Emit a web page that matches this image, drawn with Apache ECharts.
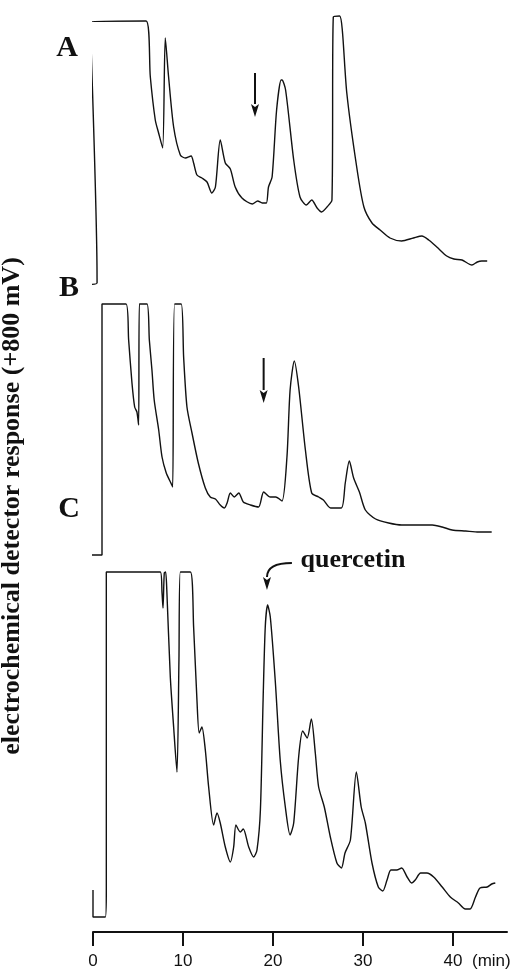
<!DOCTYPE html>
<html>
<head>
<meta charset="utf-8">
<script src="https://cdn.jsdelivr.net/npm/echarts@6/dist/echarts.min.js"></script>
<style>
  html, body { margin: 0; padding: 0; background: #fff; }
  #chart { width: 518px; height: 970px; }
</style>
</head>
<body>
<div id="chart"></div>
<script>
// retention time (min) / detector response
var traceA = [
    [-0.85, 5], [0.45, 7], [0.45, 12], [-0.3, 268], [5.9, 269], [6.37, 213], [6.92, 170],
    [7.29, 157], [7.74, 142], [8.03, 252], [8.4, 213], [8.96, 163], [9.7, 135], [10.26, 132],
    [10.9, 134], [11.18, 127], [11.55, 115], [12.1, 112], [12.67, 108], [13.2, 97], [13.6, 103],
    [14.14, 150], [14.7, 127], [15.26, 121], [15.8, 103], [16.55, 92], [17.7, 86], [18.3, 89],
    [18.8, 87], [19.26, 87], [19.5, 103], [19.9, 113], [20.4, 180], [20.9, 210], [21.0, 210],
    [21.4, 200], [22.3, 130], [23.0, 93], [23.7, 85], [24.3, 90], [24.9, 82], [25.4, 78],
    [26.0, 83], [26.55, 90], [26.7, 273], [27.4, 274], [27.7, 260], [28.2, 197], [29.3, 123],
    [30.1, 83], [31.0, 67], [31.9, 60], [33.0, 52], [34.3, 49], [35.6, 52], [36.55, 54],
    [37.3, 50], [38.2, 43], [39.3, 34], [40.1, 31], [41.0, 30], [42.1, 25], [42.7, 28],
    [43.2, 29], [43.8, 29]
];
var traceB = [
    [-0.6, 12], [-0.6, 5], [1.0, 5], [1.0, 256], [3.67, 256], [3.96, 220], [4.33, 177],
    [4.63, 153], [4.88, 148], [5.07, 135], [5.15, 256], [6.0, 256], [6.26, 220], [6.55, 190],
    [6.8, 160], [7.3, 130], [7.67, 103], [8.14, 87], [8.6, 78], [8.85, 73], [9.07, 256],
    [9.8, 256], [10.07, 203], [10.44, 153], [11.0, 127], [11.7, 97], [12.48, 72], [13.03, 63],
    [13.6, 61], [14.14, 55], [14.6, 52], [14.9, 57], [15.26, 67], [15.7, 63], [16.2, 67],
    [16.7, 58], [17.5, 55], [18.4, 53], [18.96, 68], [19.7, 63], [20.3, 63], [21.0, 59],
    [21.55, 103], [21.9, 170], [22.37, 199], [22.85, 173], [23.6, 110], [24.3, 67], [25.07, 63],
    [25.6, 60], [26.4, 52], [27.6, 52], [28.03, 77], [28.48, 99], [28.96, 82], [29.6, 68],
    [30.26, 50], [31.4, 41], [32.85, 37], [34.3, 35], [36.2, 35], [37.7, 35], [38.8, 33],
    [39.9, 30], [41.4, 29], [42.85, 28], [44.3, 28]
];
var traceC = [
    [0, 42], [0, 15], [1.37, 15], [1.48, 42], [1.48, 360], [7.48, 360], [7.67, 339], [7.78, 324],
    [7.92, 359], [8.07, 360], [8.2, 342], [8.59, 255], [8.96, 205], [9.33, 160], [9.55, 272],
    [9.7, 360], [10.82, 360], [11.18, 305], [11.55, 232], [11.8, 199], [12.1, 205], [12.48, 182],
    [12.85, 145], [13.4, 107], [13.78, 119], [14.14, 109], [14.7, 85], [15.26, 70], [15.63, 85],
    [15.88, 107], [16.36, 100], [16.7, 103], [17.3, 85], [17.85, 75], [18.22, 82], [18.6, 122],
    [18.9, 232], [19.14, 305], [19.4, 327], [19.7, 315], [20.26, 250], [20.8, 172], [21.37, 125],
    [21.9, 97], [22.3, 109], [22.85, 175], [23.3, 201], [23.8, 194], [24.26, 213], [24.7, 179],
    [25.07, 145], [25.7, 125], [26.37, 95], [27.1, 69], [27.6, 64], [28.0, 79], [28.6, 92],
    [29.26, 160], [29.8, 125], [30.26, 109], [31.0, 69], [31.7, 45], [32.2, 41], [32.67, 52],
    [33.1, 62], [33.75, 62], [34.3, 64], [34.9, 55], [35.4, 49], [35.8, 52], [36.4, 59],
    [37.1, 59], [37.85, 55], [38.8, 45], [39.7, 35], [40.6, 29], [41.37, 23], [41.9, 23],
    [42.5, 35], [43.0, 44], [43.8, 45], [44.3, 48], [44.7, 49]
];
var tickValues = [0, 10, 20, 30, 40];

// arrows: [fromTime, fromResp, tipTime, tipResp, curved]
var arrowA = [18.0, 217, 18.0, 173, 0];
var arrowB = [18.96, 202, 18.96, 157, 0];
var arrowC = [22.1, 369, 19.33, 342, 1];
var quercetinText = [22.5, 372];

var serif = '"Liberation Serif", "DejaVu Serif", serif';
var sans = '"Liberation Sans", Arial, sans-serif';
var ink = '#111';

var chart = echarts.init(document.getElementById('chart'));

function xAxisFor(idx, visible) {
    return {
        type: 'value', gridIndex: idx, min: 0, max: 46, interval: 10,
        show: visible,
        axisLine: { show: true, lineStyle: { color: ink, width: 2 } },
        axisTick: { show: true, length: 14, lineStyle: { color: ink, width: 2 }, customValues: tickValues },
        axisLabel: { margin: 21, color: ink, fontFamily: sans, fontSize: 17, customValues: tickValues },
        splitLine: { show: false }
    };
}
function yAxisFor(idx, height) {
    return { type: 'value', gridIndex: idx, min: 0, max: height, show: false, splitLine: { show: false } };
}
function trace(idx, data) {
    return {
        type: 'line', xAxisIndex: idx, yAxisIndex: idx, data: data,
        showSymbol: false, clip: false, silent: true, animation: false,
        smooth: 0.25,
        lineStyle: { color: ink, width: 1.4 }
    };
}

// arrow drawn through the axes: straight or bent stem + filled head
function renderArrow(params, api) {
    var p0 = api.coord([api.value(0), api.value(1)]);
    var tip = api.coord([api.value(2), api.value(3)]);
    var headLen = 13, headHalf = 4;
    var base = [tip[0], tip[1] - headLen];
    var stem;
    if (api.value(4)) {
        stem = {
            type: 'bezierCurve',
            shape: { x1: p0[0], y1: p0[1], x2: base[0], y2: base[1], cpx1: base[0], cpy1: p0[1] },
            style: { stroke: ink, lineWidth: 2, fill: null }
        };
    } else {
        stem = {
            type: 'line',
            shape: { x1: p0[0], y1: p0[1], x2: base[0], y2: base[1] },
            style: { stroke: ink, lineWidth: 2 }
        };
    }
    return {
        type: 'group',
        children: [stem, {
            type: 'polygon',
            shape: { points: [[tip[0], tip[1]], [tip[0] - headHalf, base[1]], [tip[0], base[1] + 3], [tip[0] + headHalf, base[1]]] },
            style: { fill: ink }
        }]
    };
}
function arrow(idx, a) {
    return {
        type: 'custom', xAxisIndex: idx, yAxisIndex: idx, data: [a],
        renderItem: renderArrow, clip: false, silent: true, animation: false
    };
}

var seriesC = trace(2, traceC);
seriesC.markPoint = {
    silent: true, symbol: 'circle', symbolSize: 0,
    label: {
        show: true, position: 'right', distance: 5, formatter: 'quercetin',
        color: ink, fontFamily: serif, fontWeight: 'bold', fontSize: 26
    },
    data: [{ coord: quercetinText }]
};

var option = {
    backgroundColor: '#fff',
    animation: false,
    grid: [
        { left: 93, width: 414, top: 10, height: 280 },
        { left: 93, width: 414, top: 290, height: 270 },
        { left: 93, width: 414, top: 560, height: 372 }
    ],
    xAxis: [xAxisFor(0, false), xAxisFor(1, false), xAxisFor(2, true)],
    yAxis: [yAxisFor(0, 280), yAxisFor(1, 270), yAxisFor(2, 372)],
    series: [
        trace(0, traceA), trace(1, traceB), seriesC,
        arrow(0, arrowA), arrow(1, arrowB), arrow(2, arrowC)
    ],
    graphic: [
        { type: 'text', x: 78, y: 63, style: { text: 'A', font: 'bold 30px ' + serif, fill: ink, textAlign: 'right', textVerticalAlign: 'bottom' } },
        { type: 'text', x: 79, y: 303, style: { text: 'B', font: 'bold 30px ' + serif, fill: ink, textAlign: 'right', textVerticalAlign: 'bottom' } },
        { type: 'text', x: 80, y: 524, style: { text: 'C', font: 'bold 30px ' + serif, fill: ink, textAlign: 'right', textVerticalAlign: 'bottom' } },
        { type: 'text', x: 12, y: 506, rotation: Math.PI / 2,
          style: { text: 'electrochemical detector response (+800 mV)', font: 'bold 26px ' + serif, fill: ink, textAlign: 'center', textVerticalAlign: 'middle' } },
        { type: 'text', x: 472, y: 953, style: { text: '(min)', font: '17px ' + sans, fill: ink, textAlign: 'left', textVerticalAlign: 'top' } }
    ]
};

chart.setOption(option);
</script>
</body>
</html>
